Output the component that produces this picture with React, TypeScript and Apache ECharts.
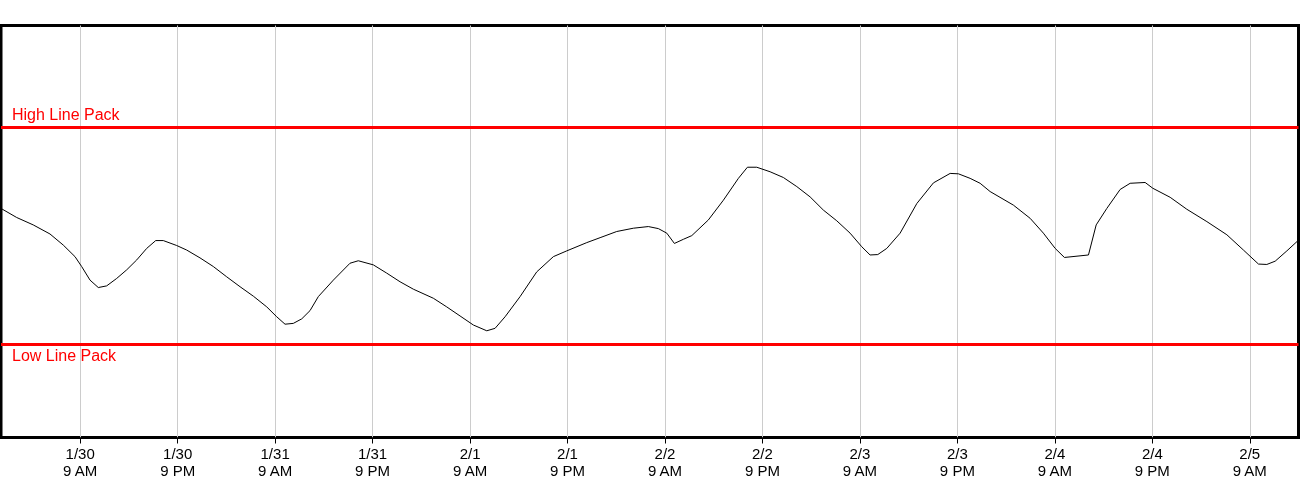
import React, { useEffect, useRef } from "react";
import * as echarts from "echarts";

// hours after 1/30 9 AM
const hours = [
  -9.75, -7.82, -5.78, -3.72, -2.08, -0.64, 0.18, 1.21, 2.23, 3.26, 4.49, 5.73, 6.96, 8.19, 9.3, 10.23,
  11.88, 13.11, 14.75, 16.39, 18.04, 19.68, 21.32, 22.97, 24.2, 25.22, 26.24, 27.28, 28.3, 29.32,
  31.17, 33.22, 34.24, 36.09, 37.74, 39.38, 41.02, 43.48, 45.13, 46.77, 48.41, 50.06, 51.08, 52.31,
  54.16, 56.21, 58.26, 59.91, 62.37, 64.01, 66.06, 68.11, 69.95,
  71.19, 72.22, 73.16, 74.26, 75.3, 77.34, 79.19, 81.04, 82.15, 83.3, 84.94, 86.58, 88.23, 89.87,
  91.5, 93.15, 94.79, 96.23, 97.25, 98.2, 99.31, 100.95, 103.01, 105.05, 107.11, 108.13, 109.57, 110.8,
  112.03, 114.9, 116.96, 118.59, 120.04, 121.18, 124.14, 125.09, 126.4, 128.04, 129.27, 131.12, 132.06,
  134.2, 136.25, 138.72, 141.18, 143.22, 145.07, 146.1, 147.13, 148.57, 150.0,
];

const linePack = [
  55.6, 53.4, 51.6, 49.4, 46.7, 43.9, 41.5, 38.2, 36.4, 36.8, 38.6, 40.7, 43.1, 45.9, 47.8, 47.8,
  46.6, 45.5, 43.6, 41.5, 39.0, 36.6, 34.3, 31.7, 29.3, 27.5, 27.7, 28.8, 30.8, 34.2,
  38.2, 42.3, 42.9, 41.9, 39.9, 37.8, 36.0, 33.8, 31.7, 29.5, 27.3, 25.9, 26.5, 29.3,
  34.2, 40.2, 43.9, 45.3, 47.3, 48.5, 50.0, 50.8, 51.2,
  50.7, 49.6, 47.1, 48.1, 49.0, 52.8, 57.6, 62.9, 65.6, 65.6, 64.5, 63.1, 60.9, 58.4,
  55.2, 52.6, 49.6, 46.3, 44.3, 44.4, 45.9, 49.6, 56.8, 61.8, 64.1, 64.0, 62.9, 61.7,
  59.7, 56.4, 53.2, 49.6, 45.9, 43.7, 44.3, 51.6, 55.6, 60.2, 61.7, 61.9, 60.5,
  58.3, 55.4, 52.4, 49.2, 45.5, 42.1, 42.0, 42.8, 45.3, 47.9,
];

const tickHours = [0, 12, 24, 36, 48, 60, 72, 84, 96, 108, 120, 132, 144];
const tickLabels = [
  "1/30\n9 AM", "1/30\n9 PM", "1/31\n9 AM", "1/31\n9 PM", "2/1\n9 AM", "2/1\n9 PM",
  "2/2\n9 AM", "2/2\n9 PM", "2/3\n9 AM", "2/3\n9 PM", "2/4\n9 AM", "2/4\n9 PM", "2/5\n9 AM",
];

const highLinePack = 75.4;
const lowLinePack = 22.7;

export default function App() {
  const ref = useRef<HTMLDivElement>(null);
  useEffect(() => {
    if (!ref.current) return;
    const chart = echarts.init(ref.current, undefined, { renderer: "svg" });
    const font = "'Liberation Sans', Arial, sans-serif";
    chart.setOption({
      animation: false,
      grid: {
        left: 1,
        right: 1.5,
        top: 25.5,
        bottom: 62.5,
        show: true,
        borderColor: "#000",
        borderWidth: 3,
        backgroundColor: "transparent",
      },
      xAxis: {
        type: "value",
        min: -9.75,
        max: 150,
        axisLine: { show: false },
        axisTick: {
          show: true,
          customValues: tickHours,
          length: 6,
          lineStyle: { color: "#000", width: 1 },
        },
        axisLabel: {
          customValues: tickHours,
          formatter: (v: number) => {
            const i = tickHours.indexOf(Math.round(v));
            return i >= 0 ? tickLabels[i] : "";
          },
          color: "#000",
          fontSize: 15,
          fontFamily: font,
          lineHeight: 17,
          margin: 7,
        },
        splitLine: { show: true, lineStyle: { color: "#cccccc", width: 1 } },
      },
      yAxis: {
        type: "value",
        min: 0,
        max: 100,
        show: false,
        splitLine: { show: false },
      },
      series: [
        {
          type: "line",
          data: hours.map((h, i) => [h, linePack[i]]),
          showSymbol: false,
          symbol: "none",
          lineStyle: { color: "#000", width: 1 },
          markLine: {
            silent: true,
            symbol: "none",
            lineStyle: { color: "#ff0000", width: 3, type: "solid" },
            data: [
              {
                yAxis: highLinePack,
                label: {
                  show: true,
                  formatter: "High Line Pack",
                  position: "insideStartTop",
                  color: "#ff0000",
                  fontSize: 16,
                  fontFamily: font,
                  distance: [11, 4],
                },
              },
              {
                yAxis: lowLinePack,
                label: {
                  show: true,
                  formatter: "Low Line Pack",
                  position: "insideStartBottom",
                  color: "#ff0000",
                  fontSize: 16,
                  fontFamily: font,
                  distance: [11, 4],
                },
              },
            ],
          },
        },
      ],
    });
    return () => chart.dispose();
  }, []);
  return (
    <div
      ref={ref}
      style={{ position: "fixed", left: 0, top: 0, width: 1300, height: 500 }}
    />
  );
}
